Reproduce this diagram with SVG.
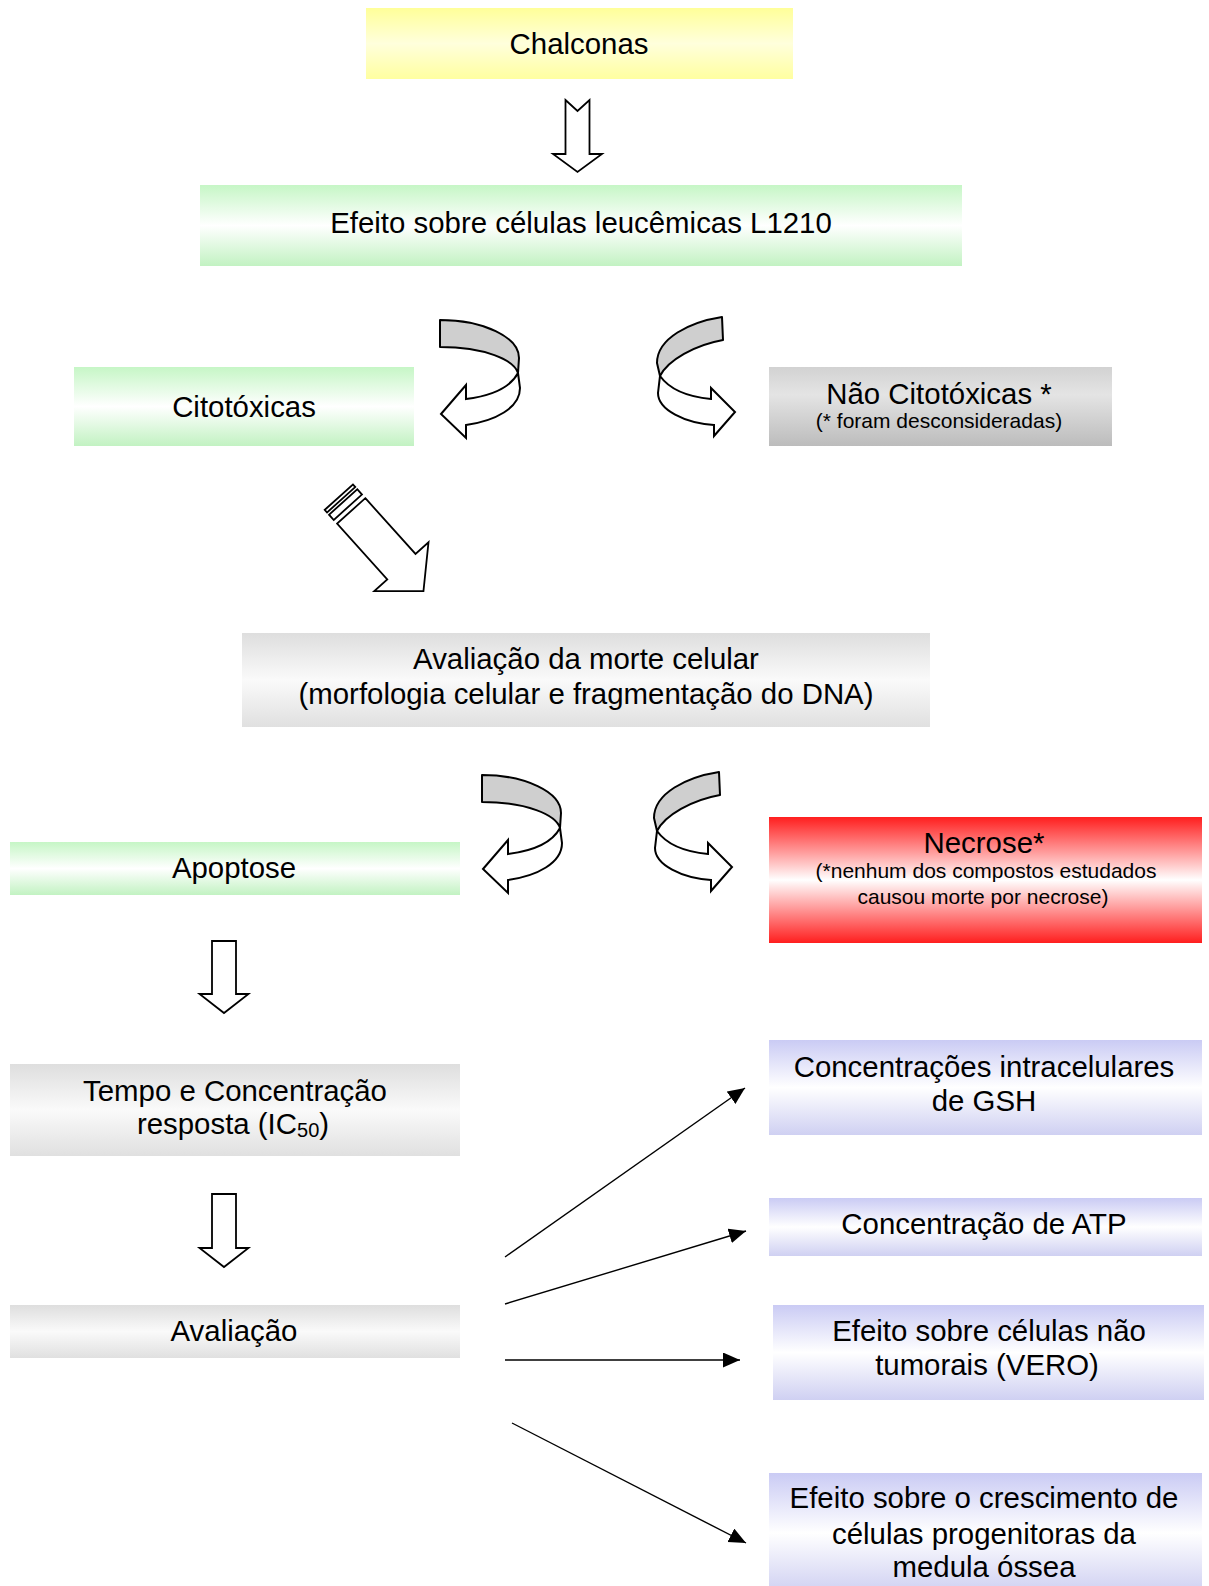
<svg xmlns="http://www.w3.org/2000/svg" xmlns:xlink="http://www.w3.org/1999/xlink" width="1209" height="1586" viewBox="0 0 1209 1586">
<style>
text{font-family:"Liberation Sans",Arial,sans-serif;fill:#000;text-anchor:middle}
.t{font-size:29.4px}
.s{font-size:21px}
.blk{fill:#fff;stroke:#000;stroke-width:1.8;stroke-linejoin:miter}
.band{fill:#cfcfcf;stroke:#000;stroke-width:2;stroke-linejoin:round}
.rib{fill:#fff;stroke:#000;stroke-width:2;stroke-linejoin:miter}
.ln{stroke:#000;stroke-width:1.4;fill:none}
</style>
<defs>
<linearGradient id="gY" x1="0" y1="0" x2="0" y2="1"><stop offset="0" stop-color="#ffff99"/><stop offset="0.5" stop-color="#ffffdc"/><stop offset="1" stop-color="#ffffa0"/></linearGradient>
<linearGradient id="gG" x1="0" y1="0" x2="0" y2="1"><stop offset="0" stop-color="#c6f6c6"/><stop offset="0.5" stop-color="#ffffff"/><stop offset="1" stop-color="#c2f2c2"/></linearGradient>
<linearGradient id="gL" x1="0" y1="0" x2="0" y2="1"><stop offset="0" stop-color="#dedede"/><stop offset="0.5" stop-color="#fafafa"/><stop offset="1" stop-color="#e0e0e0"/></linearGradient>
<linearGradient id="gD" x1="0" y1="0" x2="0" y2="1"><stop offset="0" stop-color="#d2d2d2"/><stop offset="0.35" stop-color="#e4e4e4"/><stop offset="1" stop-color="#bcbcbc"/></linearGradient>
<linearGradient id="gR" x1="0" y1="0" x2="0" y2="1"><stop offset="0" stop-color="#ff1e1e"/><stop offset="0.5" stop-color="#ffffff"/><stop offset="1" stop-color="#ff1e1e"/></linearGradient>
<linearGradient id="gB" x1="0" y1="0" x2="0" y2="1"><stop offset="0" stop-color="#cacbf4"/><stop offset="0.5" stop-color="#ffffff"/><stop offset="1" stop-color="#cfd0f2"/></linearGradient>
<marker id="ah" markerUnits="userSpaceOnUse" markerWidth="18" markerHeight="16" refX="17" refY="7.5" orient="auto"><path d="M0,0 L17,7.5 L0,15 Z" fill="#000"/></marker>
<g id="curvL">
<path class="band" d="M440,320 C483,320 519,337 519,358 L518,373 C514,360 485,347 440,347 Z"/>
<path class="rib" d="M518,373 C510,388 490,396 466,399 L466,385 L441,414 L466,438 L466,425 C495,421 520,408 520,388 Z"/>
</g>
<g id="curvR">
<path class="band" d="M722,317 C690,322 657,338 657,363 L660,376 C668,360 695,345 723,340 Z"/>
<path class="rib" d="M660,376 C670,390 690,397 711,399 L711,388 L735,412 L714,436 L714,425 C685,423 658,410 658,393 Z"/>
</g>
</defs>
<rect width="1209" height="1586" fill="#fff"/>

<g id="n-chalconas"><rect x="366" y="8" width="427" height="71" fill="url(#gY)"/><text class="t" x="579" y="54">Chalconas</text></g>
<g id="n-efeito"><rect x="200" y="185" width="762" height="81" fill="url(#gG)"/><text class="t" x="581" y="233">Efeito sobre células leucêmicas L1210</text></g>
<g id="n-citotoxicas"><rect x="74" y="367" width="340" height="79" fill="url(#gG)"/><text class="t" x="244" y="417">Citotóxicas</text></g>
<g id="n-naocitotoxicas"><rect x="769" y="367" width="343" height="79" fill="url(#gD)"/><text class="t" x="939" y="404">Não Citotóxicas *</text><text class="s" x="939" y="428">(* foram desconsideradas)</text></g>
<g id="n-morte"><rect x="242" y="633" width="688" height="94" fill="url(#gL)"/><text class="t" x="586" y="669">Avaliação da morte celular</text><text class="t" x="586" y="704">(morfologia celular e fragmentação do DNA)</text></g>
<g id="n-apoptose"><rect x="10" y="842" width="450" height="53" fill="url(#gG)"/><text class="t" x="234" y="878">Apoptose</text></g>
<g id="n-necrose"><rect x="769" y="817" width="433" height="126" fill="url(#gR)"/><text class="t" x="984" y="853">Necrose*</text><text class="s" x="986" y="878">(*nenhum dos compostos estudados</text><text class="s" x="983" y="904">causou morte por necrose)</text></g>
<g id="n-tempo"><rect x="10" y="1064" width="450" height="92" fill="url(#gL)"/><text class="t" x="235" y="1101">Tempo e Concentração</text><text class="t" x="233" y="1134">resposta (IC<tspan font-size="20" dy="3">50</tspan><tspan dy="-3">)</tspan></text></g>
<g id="n-avaliacao"><rect x="10" y="1305" width="450" height="53" fill="url(#gL)"/><text class="t" x="234" y="1341">Avaliação</text></g>
<g id="n-gsh"><rect x="769" y="1040" width="433" height="95" fill="url(#gB)"/><text class="t" x="984" y="1077">Concentrações intracelulares</text><text class="t" x="984" y="1111">de GSH</text></g>
<g id="n-atp"><rect x="769" y="1198" width="433" height="58" fill="url(#gB)"/><text class="t" x="984" y="1234">Concentração de ATP</text></g>
<g id="n-vero"><rect x="773" y="1305" width="431" height="95" fill="url(#gB)"/><text class="t" x="989" y="1341">Efeito sobre células não</text><text class="t" x="987" y="1375">tumorais (VERO)</text></g>
<g id="n-medula"><rect x="769" y="1473" width="433" height="120" fill="url(#gB)"/><text class="t" x="984" y="1508">Efeito sobre o crescimento de</text><text class="t" x="984" y="1544">células progenitoras da</text><text class="t" x="984" y="1577">medula óssea</text></g>

<g id="connectors">
<path class="blk" d="M565.5,100 L577.5,111 L589.5,100 L589.5,154 L602,154 L577.5,172 L553,154 L565.5,154 Z"/>
<use xlink:href="#curvL"/>
<use xlink:href="#curvR"/>
<g transform="translate(351.2,510.9) rotate(48)">
<rect class="blk" x="-18.5" y="-19" width="3.5" height="38"/>
<rect class="blk" x="-12" y="-19" width="7" height="38"/>
<path class="blk" d="M0,-19 L75,-19 L75,-36.5 L108,0 L75,36.5 L75,19 L0,19 Z"/>
</g>
<use xlink:href="#curvL" transform="translate(42,455)"/>
<use xlink:href="#curvR" transform="translate(-3,455)"/>
<path class="blk" d="M212,941 L236,941 L236,994 L248.5,994 L224,1013 L199.5,994 L212,994 Z"/>
<path class="blk" d="M212,1194 L236,1194 L236,1248 L248.5,1248 L224,1267 L199.5,1248 L212,1248 Z"/>
<line class="ln" x1="505" y1="1257" x2="745" y2="1088" marker-end="url(#ah)"/>
<line class="ln" x1="505" y1="1304" x2="746" y2="1231" stroke-width="2" marker-end="url(#ah)"/>
<line class="ln" x1="505" y1="1360" x2="740" y2="1360" marker-end="url(#ah)"/>
<line class="ln" x1="512" y1="1423" x2="746" y2="1543" marker-end="url(#ah)"/>
</g>
</svg>
